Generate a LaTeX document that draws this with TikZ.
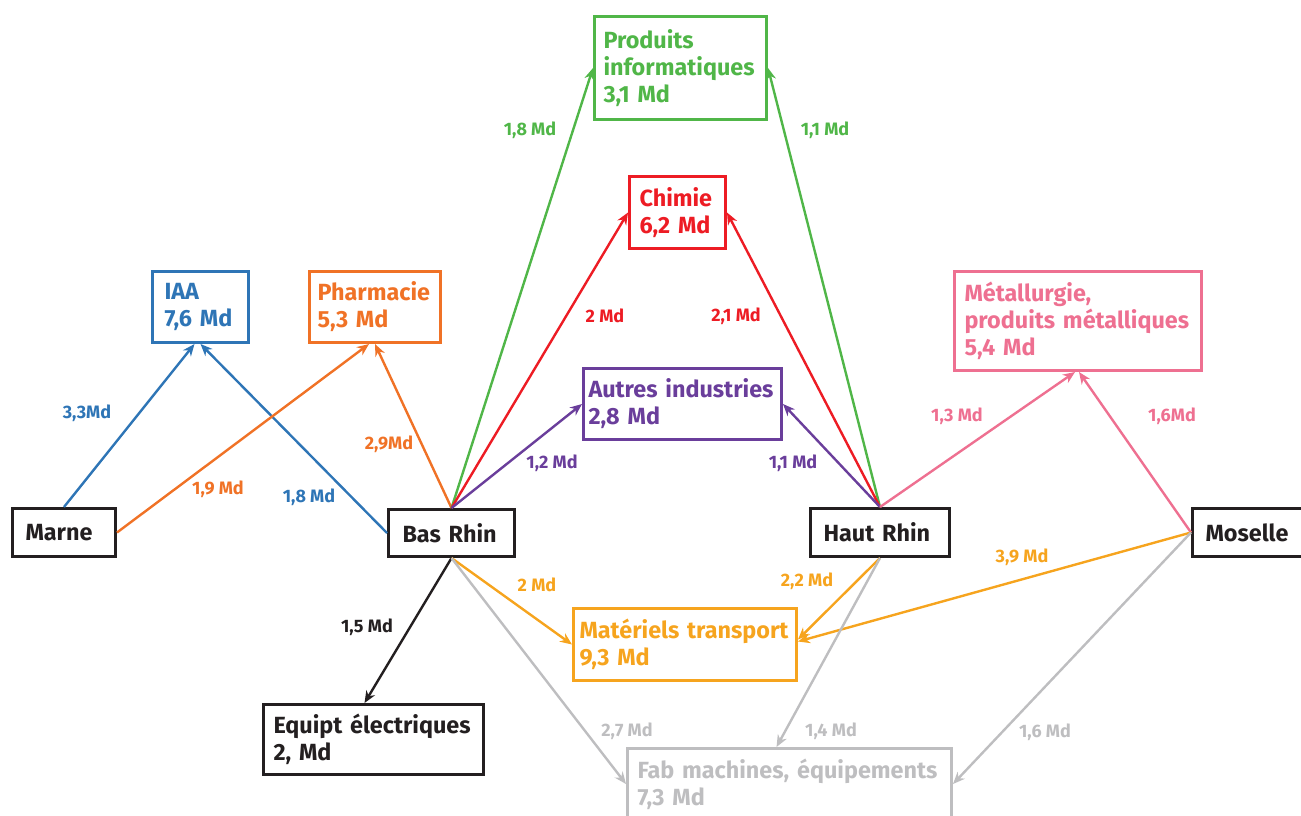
\documentclass[tikz,border=0pt]{standalone}
\usepackage{fontspec}
\setmainfont{Fira Sans}
\usetikzlibrary{arrows.meta}

\definecolor{iaablue}{RGB}{46,117,182}
\definecolor{pharmorange}{RGB}{240,114,38}
\definecolor{infogreen}{RGB}{80,182,72}
\definecolor{chemred}{RGB}{237,28,36}
\definecolor{autrespurple}{RGB}{106,62,155}
\definecolor{metalpink}{RGB}{238,112,145}
\definecolor{transorange}{RGB}{246,164,30}
\definecolor{fabgray}{RGB}{190,190,192}
\definecolor{dptblack}{RGB}{35,31,32}

\begin{document}
\begin{tikzpicture}[x=0.5pt, y=-0.5pt]

% styles
\tikzset{
  box/.style={draw, line width=1.5pt, anchor=north west, align=left, inner ysep=0pt,
    font=\fontsize{11.7}{13.5}\selectfont\bfseries},
  lbl/.style={inner sep=0pt, font=\fontsize{9}{10}\selectfont\bfseries},
  flow/.style={line width=1.2pt, -{Stealth[length=6pt,width=5pt]}}
}

\useasboundingbox (0,0) rectangle (1301,815);

% ===== départements =====
\node[box, dptblack, inner xsep=6.5pt, text width=38.5pt, minimum height=24pt] (marne) at (11,507) {Marne};
\node[box, dptblack, inner xsep=7pt, text width=49pt, minimum height=23.5pt] (bas) at (387,508) {Bas Rhin};
\node[box, dptblack, inner xsep=6.5pt, text width=56.5pt, minimum height=24pt] (haut) at (809,507) {Haut\ Rhin};
\node[box, dptblack, inner xsep=6.5pt, text width=43pt, minimum height=24pt] (moselle) at (1191,507) {Moselle};

% ===== secteurs =====
\node[box, iaablue, inner xsep=6pt, text width=36pt, minimum height=35.5pt] (iaa) at (151,270) {IAA\\7,6 Md};
\node[box, pharmorange, inner xsep=4pt, text width=57.5pt, minimum height=35.5pt] (pharma) at (308,270) {Pharmacie\\5,3 Md};
\node[box, infogreen, inner xsep=4.5pt, text width=77pt, minimum height=51.5pt] (prod) at (593,15) {Produits\\informatiques\\3,1 Md};
\node[box, chemred, inner xsep=5pt, text width=38pt, minimum height=36pt] (chimie) at (628,175) {Chimie\\6,2 Md};
\node[box, autrespurple, inner xsep=2.5pt, text width=94pt, minimum height=35.5pt] (autres) at (582,367) {Autres industries\\2,8 Md};
\node[box, metalpink, inner xsep=5pt, text width=113.5pt, minimum height=49.5pt] (metal) at (953,270) {Métallurgie,\\produits métalliques\\5,4 Md};
\node[box, dptblack, inner xsep=5pt, text width=100pt, minimum height=35pt] (equip) at (262,703) {Equipt électriques\\2, Md};
\node[box, transorange, inner xsep=3pt, text width=105.5pt, minimum height=36pt] (mat) at (572,607) {Matériels transport\\9,3 Md};
\node[box, fabgray, inner xsep=5pt, text width=152pt, minimum height=35.5pt] (fab) at (626,747) {Fab machines, équipements\\7,3 Md};

% ===== flux =====
\draw[flow, iaablue] (marne.north) -- ([xshift=-3pt]iaa.south);
\draw[flow, iaablue] (bas.west) -- (iaa.south);
\draw[flow, pharmorange] (marne.east) -- ([xshift=-3pt]pharma.south);
\draw[flow, pharmorange] (bas.north) -- (pharma.south);
\draw[flow, infogreen] (bas.north) -- (prod.west);
\draw[flow, infogreen] (haut.north) -- (prod.east);
\draw[flow, chemred] (bas.north) -- (chimie.west);
\draw[flow, chemred] (haut.north) -- (chimie.east);
\draw[flow, autrespurple] (bas.north) -- (autres.west);
\draw[flow, autrespurple] (haut.north) -- (autres.east);
\draw[flow, metalpink] (haut.north) -- ([xshift=-1.5pt]metal.south);
\draw[flow, metalpink] (moselle.west) -- ([xshift=0.5pt]metal.south);
\draw[flow, dptblack] (bas.south) -- ([xshift=-4.5pt]equip.north);
\draw[flow, transorange] (bas.south) -- (mat.west);
\draw[flow, transorange] (haut.south) -- ([yshift=2.5pt]mat.east);
\draw[flow, transorange] (moselle.west) -- ([yshift=1.5pt]mat.east);
\draw[flow, fabgray] (bas.south) -- (fab.west);
\draw[flow, fabgray] (haut.south) -- ([xshift=-6.5pt]fab.north);
\draw[flow, fabgray] (moselle.west) -- (fab.east);

% ===== montants =====
\node[lbl, iaablue] (l-marne-iaa) at (87,413) {3,3Md};
\node[lbl, iaablue] (l-bas-iaa) at (309,497) {1,8 Md};
\node[lbl, pharmorange] (l-marne-pharma) at (218,489) {1,9 Md};
\node[lbl, pharmorange] (l-bas-pharma) at (389,444) {2,9Md};
\node[lbl, infogreen] (l-bas-prod) at (530,130) {1,8 Md};
\node[lbl, infogreen] (l-haut-prod) at (825,130) {1,1 Md};
\node[lbl, chemred] (l-bas-chimie) at (605,316) {2 Md};
\node[lbl, chemred] (l-haut-chimie) at (736,316) {2,1 Md};
\node[lbl, autrespurple] (l-bas-autres) at (552,463) {1,2 Md};
\node[lbl, autrespurple] (l-haut-autres) at (793,463) {1,1 Md};
\node[lbl, metalpink] (l-haut-metal) at (957,416) {1,3 Md};
\node[lbl, metalpink] (l-moselle-metal) at (1172,416) {1,6Md};
\node[lbl, dptblack] (l-bas-equip) at (367,627) {1,5 Md};
\node[lbl, transorange] (l-bas-mat) at (537,585) {2 Md};
\node[lbl, transorange] (l-haut-mat) at (807,581) {2,2 Md};
\node[lbl, transorange] (l-moselle-mat) at (1022,557) {3,9 Md};
\node[lbl, fabgray] (l-bas-fab) at (627,731) {2,7 Md};
\node[lbl, fabgray] (l-haut-fab) at (831,731) {1,4 Md};
\node[lbl, fabgray] (l-moselle-fab) at (1045,732) {1,6 Md};

\end{tikzpicture}
\end{document}
